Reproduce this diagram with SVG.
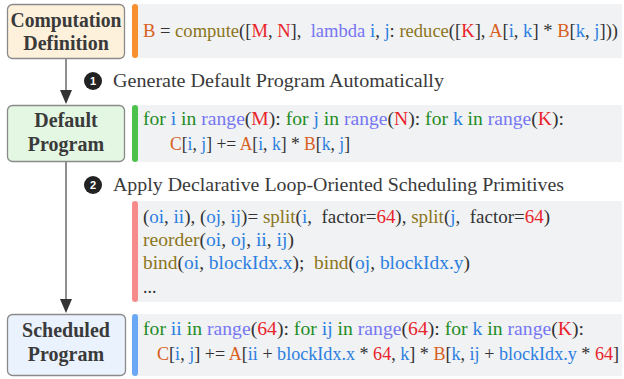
<svg xmlns="http://www.w3.org/2000/svg" width="624" height="379" viewBox="0 0 624 379">
<style>
text{font-family:"Liberation Serif","DejaVu Serif",serif;fill:#333;white-space:pre}
.code{font-size:18px}
.lbl{font-size:18.5px;fill:#3a3a3a}
.node{font-size:20px;font-weight:bold;fill:#3a3a3a;text-anchor:middle}
.num{font-size:11px;font-weight:bold;fill:#fff;text-anchor:middle;font-family:"Liberation Sans",sans-serif}
.o{fill:#d8601f}.ol{fill:#8b7520}.r{fill:#e8242b}.l{fill:#7676f2}.b{fill:#2c7fe0}.g{fill:#1f8c1f}
.panel{fill:#f1f2f4}
.box{stroke:#8a8a8a;stroke-width:1.3}
</style>

<g id="connectors">
<line x1="66" y1="59" x2="66" y2="90" stroke="#6a6a6a" stroke-width="1.5"/>
<path d="M60,90 L72,90 L66,104 Z" fill="#333"/>
<line x1="66" y1="162" x2="66" y2="299" stroke="#6a6a6a" stroke-width="1.5"/>
<path d="M60,299 L72,299 L66,313 Z" fill="#333"/>
</g>

<g id="computation-definition">
<rect class="box" x="7.5" y="4.5" width="117" height="54" rx="5" fill="#fdf1dc"/>
<text class="node" x="66" y="27" textLength="111" lengthAdjust="spacingAndGlyphs">Computation</text>
<text class="node" x="66" y="50">Definition</text>
</g>
<g id="code-definition">
<rect class="panel" x="134" y="4" width="488" height="54"/>
<rect x="132" y="4" width="6" height="54" rx="3" fill="#f7902e"/>
<text class="code" x="143" y="37" textLength="475" lengthAdjust="spacingAndGlyphs"><tspan class="o">B</tspan> = <tspan class="ol">compute</tspan>([<tspan class="r">M</tspan>, <tspan class="r">N</tspan>],  <tspan class="l">lambda</tspan> <tspan class="b">i</tspan>, <tspan class="b">j</tspan>: <tspan class="ol">reduce</tspan>([<tspan class="r">K</tspan>], <tspan class="o">A</tspan>[<tspan class="b">i</tspan>, <tspan class="b">k</tspan>] * <tspan class="o">B</tspan>[<tspan class="b">k</tspan>, <tspan class="b">j</tspan>]))</text>
</g>

<g id="step1">
<circle cx="93" cy="81" r="9" fill="#222"/>
<text class="num" x="93" y="85">1</text>
<text class="lbl" x="113" y="87" textLength="331" lengthAdjust="spacingAndGlyphs">Generate Default Program Automatically</text>
</g>

<g id="default-program">
<rect class="box" x="7.5" y="105.5" width="117" height="56" rx="5" fill="#e3f7e3"/>
<text class="node" x="66" y="127">Default</text>
<text class="node" x="66" y="151">Program</text>
</g>
<g id="code-default">
<rect class="panel" x="134" y="105" width="488" height="57"/>
<rect x="132" y="105" width="6" height="57" rx="3" fill="#4cc24c"/>
<text class="code" x="143" y="125" textLength="421" lengthAdjust="spacingAndGlyphs"><tspan class="g">for</tspan> <tspan class="b">i</tspan> <tspan class="g">in</tspan> <tspan class="l">range</tspan>(<tspan class="r">M</tspan>): <tspan class="g">for</tspan> <tspan class="b">j</tspan> <tspan class="g">in</tspan> <tspan class="l">range</tspan>(<tspan class="r">N</tspan>): <tspan class="g">for</tspan> <tspan class="b">k</tspan> <tspan class="g">in</tspan> <tspan class="l">range</tspan>(<tspan class="r">K</tspan>):</text>
<text class="code" x="170" y="150" textLength="180" lengthAdjust="spacingAndGlyphs"><tspan class="o">C</tspan>[<tspan class="b">i</tspan>, <tspan class="b">j</tspan>] += <tspan class="o">A</tspan>[<tspan class="b">i</tspan>, <tspan class="b">k</tspan>] * <tspan class="o">B</tspan>[<tspan class="b">k</tspan>, <tspan class="b">j</tspan>]</text>
</g>

<g id="step2">
<circle cx="93" cy="185" r="9" fill="#222"/>
<text class="num" x="93" y="189">2</text>
<text class="lbl" x="113" y="191" textLength="451" lengthAdjust="spacingAndGlyphs">Apply Declarative Loop-Oriented Scheduling Primitives</text>
</g>

<g id="code-schedule">
<rect class="panel" x="134" y="201" width="488" height="101"/>
<rect x="132" y="201" width="6" height="101" rx="3" fill="#f78b8b"/>
<text class="code" x="143" y="223" textLength="407" lengthAdjust="spacingAndGlyphs">(<tspan class="b">oi</tspan>, <tspan class="b">ii</tspan>), (<tspan class="b">oj</tspan>, <tspan class="b">ij</tspan>)= <tspan class="ol">split</tspan>(<tspan class="b">i</tspan>,  factor=<tspan class="r">64</tspan>), <tspan class="ol">split</tspan>(<tspan class="b">j</tspan>,  factor=<tspan class="r">64</tspan>)</text>
<text class="code" x="143" y="246" textLength="151" lengthAdjust="spacingAndGlyphs"><tspan class="ol">reorder</tspan>(<tspan class="b">oi</tspan>, <tspan class="b">oj</tspan>, <tspan class="b">ii</tspan>, <tspan class="b">ij</tspan>)</text>
<text class="code" x="143" y="269" textLength="327" lengthAdjust="spacingAndGlyphs"><tspan class="ol">bind</tspan>(<tspan class="b">oi</tspan>, <tspan class="b">blockIdx.x</tspan>);  <tspan class="ol">bind</tspan>(<tspan class="b">oj</tspan>, <tspan class="b">blockIdx.y</tspan>)</text>
<text class="code" x="143" y="293">...</text>
</g>

<g id="scheduled-program">
<rect class="box" x="7.5" y="314.5" width="118" height="61" rx="5" fill="#eaf2fd"/>
<text class="node" x="66" y="337">Scheduled</text>
<text class="node" x="66" y="361">Program</text>
</g>
<g id="code-scheduled">
<rect class="panel" x="134" y="314" width="488" height="62"/>
<rect x="132" y="314" width="6" height="62" rx="3" fill="#6aa7f5"/>
<text class="code" x="143" y="335" textLength="441" lengthAdjust="spacingAndGlyphs"><tspan class="g">for</tspan> <tspan class="b">ii</tspan> <tspan class="g">in</tspan> <tspan class="l">range</tspan>(<tspan class="r">64</tspan>): <tspan class="g">for</tspan> <tspan class="b">ij</tspan> <tspan class="g">in</tspan> <tspan class="l">range</tspan>(<tspan class="r">64</tspan>): <tspan class="g">for</tspan> <tspan class="b">k</tspan> <tspan class="g">in</tspan> <tspan class="l">range</tspan>(<tspan class="r">K</tspan>):</text>
<text class="code" x="157" y="360" textLength="462" lengthAdjust="spacingAndGlyphs"><tspan class="o">C</tspan>[<tspan class="b">i</tspan>, <tspan class="b">j</tspan>] += <tspan class="o">A</tspan>[<tspan class="b">ii</tspan> + <tspan class="b">blockIdx.x</tspan> * <tspan class="r">64</tspan>, <tspan class="b">k</tspan>] * <tspan class="o">B</tspan>[<tspan class="b">k</tspan>, <tspan class="b">ij</tspan> + <tspan class="b">blockIdx.y</tspan> * <tspan class="r">64</tspan>]</text>
</g>
</svg>
